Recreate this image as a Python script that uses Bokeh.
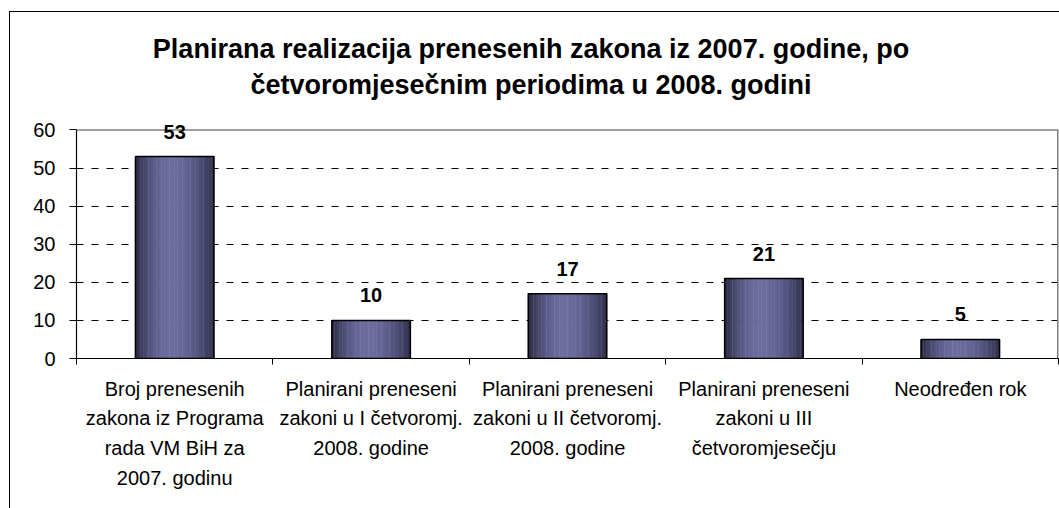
import numpy as np
from bokeh.plotting import figure
from bokeh.layouts import column
from bokeh.models import FixedTicker, Range1d, LabelSet, ColumnDataSource, LinearAxis, Grid, Div, Span
from bokeh.core.properties import value
from bokeh.embed import file_html
from bokeh.resources import INLINE

# ---- data ----
categories = [
    "Broj prenesenih\nzakona iz Programa\nrada VM BiH za\n2007. godinu",
    "Planirani preneseni\nzakoni u I četvoromj.\n2008. godine",
    "Planirani preneseni\nzakoni u II četvoromj.\n2008. godine",
    "Planirani preneseni\nzakoni u III\nčetvoromjesečju",
    "Neodređen rok",
]
values = [53, 10, 17, 21, 5]
y_ticks = [0, 10, 20, 30, 40, 50, 60]
title_lines = [
    "Planirana realizacija prenesenih zakona iz 2007. godine, po",
    "četvoromjesečnim periodima u 2008. godini",
]

FONT = "Liberation Sans"
n = len(categories)
centers = [i + 0.5 for i in range(n)]
bar_w = 0.4
W = 1049
y_max = y_ticks[-1]

title = Div(
    text=("<div style=\"width:%dpx; box-sizing:border-box; padding:14px 17px 0 0; text-align:center; "
          "font-family:'Liberation Sans'; font-weight:bold; font-size:27px; line-height:36px; color:black;\">"
          % W) + "<br>".join(title_lines) + "</div>",
    width=W, height=90,
)

# the frame reaches a little above 60 so that the "53" label is not clipped;
# the plot-area border is drawn at 60 instead
p = figure(
    width=W, height=396,
    x_range=Range1d(0, n), y_range=Range1d(0, 63),
    output_backend="svg", toolbar_location=None,
    min_border_left=66, min_border_right=1, min_border_top=6, min_border_bottom=150,
    x_axis_type=None, y_axis_type=None,
)
p.background_fill_color = "white"
p.border_fill_color = "white"
p.outline_line_color = None

# axes
yax = LinearAxis(ticker=FixedTicker(ticks=y_ticks, minor_ticks=[]), bounds=(0, y_max))
yax.axis_line_color = "black"
yax.axis_line_width = 1.2
yax.major_tick_out = 7
yax.major_tick_in = 0
yax.major_tick_line_color = "black"
yax.minor_tick_line_color = None
yax.major_label_text_font = FONT
yax.major_label_text_font_size = "20px"
yax.major_label_text_color = "black"
yax.major_label_standoff = 14
p.add_layout(yax, "left")

xax = LinearAxis(ticker=FixedTicker(ticks=centers, minor_ticks=list(range(n + 1))))
xax.major_label_overrides = {c: lab for c, lab in zip(centers, categories)}
xax.axis_line_color = "black"
xax.axis_line_width = 1.2
xax.major_tick_line_color = None
xax.minor_tick_line_color = "black"
xax.minor_tick_out = 6
xax.minor_tick_in = 0
xax.major_label_text_font = FONT
xax.major_label_text_font_size = "20px"
xax.major_label_text_color = "black"
xax.major_label_text_line_height = 1.36
xax.major_label_standoff = 13
p.add_layout(xax, "below")

# grid
grid = Grid(dimension=1, ticker=FixedTicker(ticks=y_ticks[1:-1]))
grid.grid_line_color = "black"
grid.grid_line_dash = "7 8"
grid.grid_line_width = 1
p.add_layout(grid)

# plot-area border (grey, top and right)
p.add_layout(Span(location=y_max, dimension="width", line_color="#808080", line_width=1.5))
p.segment(x0=[n], y0=[0], x1=[n], y1=[y_max], line_color="#808080", line_width=3)

# gradient bars made of strips
N = 30
dark_l = np.array([0x28, 0x28, 0x40])
dark_r = np.array([0x2e, 0x2e, 0x4a])
light = np.array([0x6c, 0x6c, 0x9f])
sx, stop, scol, sw = [], [], [], []
for i, v in enumerate(values):
    for k in range(N):
        t = (k + 0.5) / N
        if t < 0.45:
            f = np.sin(np.pi / 2 * t / 0.45) ** 0.9
            c = dark_l + (light - dark_l) * f
        else:
            f = np.sin(np.pi / 2 * (1 - t) / 0.55) ** 0.9
            c = dark_r + (light - dark_r) * f
        sx.append(centers[i] - bar_w / 2 + (k + 0.5) * bar_w / N)
        stop.append(v)
        scol.append("#%02x%02x%02x" % tuple(int(round(x)) for x in c))
        sw.append(bar_w / N * 1.15)
p.vbar(x=sx, top=stop, bottom=0, width=sw, fill_color=scol, line_color=None)
p.vbar(x=centers, top=values, bottom=0, width=bar_w, fill_color=None,
       line_color="black", line_width=1.5)

# value labels
src = ColumnDataSource(dict(x=centers, y=values, t=[str(v) for v in values]))
labels = LabelSet(x="x", y="y", text="t", source=src, text_align="center",
                  text_baseline="bottom", y_offset=18, text_font=value(FONT),
                  text_font_size="20px", text_font_style="bold", text_color="black")
p.add_layout(labels)

layout = column(title, p, spacing=0,
                styles={"margin-left": "10px", "margin-top": "12px",
                        "outline": "1px solid black"})

open("out.html", "w").write(file_html(layout, INLINE))
